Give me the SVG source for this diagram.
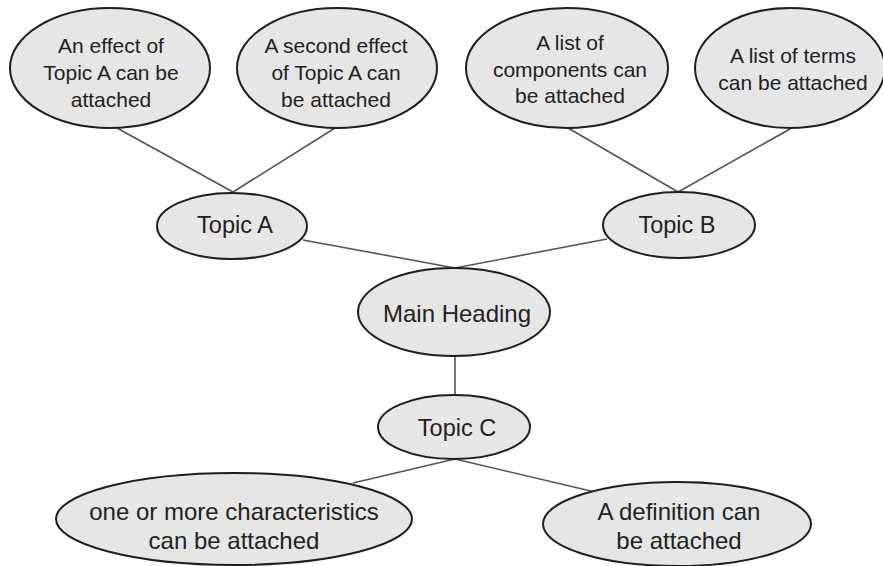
<svg xmlns="http://www.w3.org/2000/svg" width="883" height="566" viewBox="0 0 883 566">
<style>
.n ellipse{fill:#e6e6e6;stroke:#1e1e1e;stroke-width:2}
.n text{font-family:"Liberation Sans",Arial,sans-serif;fill:#222;text-anchor:middle}
.t1{font-size:21px}
.t2{font-size:23.5px}
.t3{font-size:24px}
#edges line{stroke:#555;stroke-width:1.6}
</style>
<rect width="883" height="566" fill="#fff"/>
<g id="edges">
<line x1="117" y1="128" x2="233" y2="192"/>
<line x1="335" y1="128" x2="233" y2="192"/>
<line x1="568" y1="128" x2="678" y2="192"/>
<line x1="790" y1="129" x2="678" y2="192"/>
<line x1="303" y1="240" x2="455" y2="268"/>
<line x1="607" y1="239" x2="455" y2="268"/>
<line x1="455" y1="356" x2="455" y2="395"/>
<line x1="455" y1="459" x2="353" y2="483"/>
<line x1="455" y1="459" x2="595" y2="492"/>
</g>
<g id="effect1" class="n"><ellipse cx="110" cy="68" rx="100" ry="60"/><text class="t1" x="111" y="53">An effect of</text><text class="t1" x="111" y="80">Topic A can be</text><text class="t1" x="111" y="107">attached</text></g>
<g id="effect2" class="n"><ellipse cx="337" cy="68" rx="100" ry="60"/><text class="t1" x="336" y="53">A second effect</text><text class="t1" x="336" y="80">of Topic A can</text><text class="t1" x="336" y="107">be attached</text></g>
<g id="components" class="n"><ellipse cx="567" cy="68" rx="101" ry="60"/><text class="t1" x="570" y="50">A list of</text><text class="t1" x="570" y="77">components can</text><text class="t1" x="570" y="103">be attached</text></g>
<g id="terms" class="n"><ellipse cx="790" cy="68" rx="95" ry="60"/><text class="t1" x="793" y="63">A list of terms</text><text class="t1" x="793" y="90">can be attached</text></g>
<g id="topicA" class="n"><ellipse cx="232" cy="226" rx="75" ry="33"/><text class="t2" x="235" y="233">Topic A</text></g>
<g id="topicB" class="n"><ellipse cx="679" cy="225" rx="76" ry="33"/><text class="t2" x="677" y="233">Topic B</text></g>
<g id="main" class="n"><ellipse cx="454" cy="312" rx="96" ry="44"/><text class="t3" x="457" y="322">Main Heading</text></g>
<g id="topicC" class="n"><ellipse cx="454" cy="427" rx="76" ry="32"/><text class="t2" x="457" y="436">Topic C</text></g>
<g id="characteristics" class="n"><ellipse cx="234" cy="519" rx="178" ry="46"/><text class="t3" x="234" y="520">one or more characteristics</text><text class="t3" x="234" y="549">can be attached</text></g>
<g id="definition" class="n"><ellipse cx="677" cy="524" rx="134" ry="42"/><text class="t3" x="679" y="520">A definition can</text><text class="t3" x="679" y="549">be attached</text></g>
</svg>
